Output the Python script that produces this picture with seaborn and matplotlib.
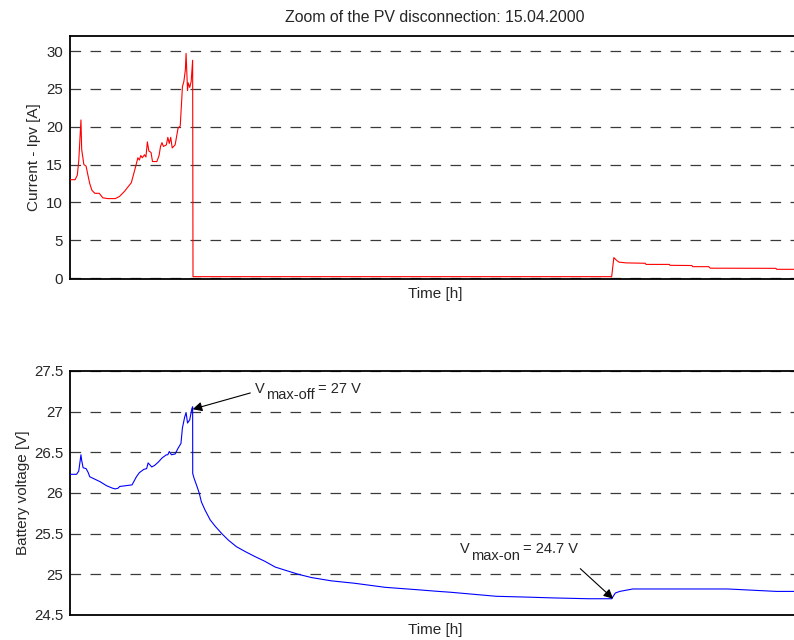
import matplotlib
matplotlib.use("Agg")
import matplotlib.pyplot as plt
import seaborn as sns
import pandas as pd

# PV array current [A] around the disconnection event
t_current = [0.00, 0.07, 0.10, 0.12, 0.15, 0.16, 0.19, 0.22, 0.25, 0.27, 0.30, 0.34,
             0.40, 0.45, 0.52, 0.62, 0.68, 0.75, 0.84, 0.89, 0.93, 0.95, 0.97, 0.99,
             1.02, 1.04, 1.06, 1.08, 1.11, 1.13, 1.19, 1.22, 1.24, 1.26, 1.28, 1.32,
             1.34, 1.36, 1.38, 1.40, 1.44, 1.48, 1.51, 1.53, 1.54, 1.56, 1.58, 1.59,
             1.61, 1.62, 1.64, 1.66, 1.68, 1.685, 7.42, 7.45, 7.48, 7.52, 7.62, 7.88,
             7.89, 8.21, 8.22, 8.52, 8.53, 8.75, 8.77, 9.67, 9.68, 10.0]
i_pv = [13.0, 13.0, 13.6, 15.5, 20.9, 17.0, 15.0, 14.8, 13.4, 12.5, 11.6, 11.2,
        11.2, 10.6, 10.5, 10.5, 10.8, 11.5, 12.6, 14.4, 15.9, 15.6, 16.2, 15.9,
        16.3, 16.0, 18.0, 16.8, 16.6, 15.4, 15.4, 16.2, 17.4, 17.9, 17.4, 17.6,
        18.6, 17.8, 18.6, 17.2, 17.6, 19.8, 20.1, 23.5, 25.3, 26.0, 27.5, 29.7,
        24.8, 25.8, 25.2, 26.0, 28.8, 0.18, 0.18, 2.7, 2.4, 2.1, 2.0, 1.95,
        1.8, 1.8, 1.68, 1.65, 1.5, 1.5, 1.3, 1.28, 1.15, 1.15]

# Battery voltage [V] over the same period
t_voltage = [0.00, 0.09, 0.12, 0.15, 0.16, 0.18, 0.22, 0.25, 0.27, 0.34, 0.41, 0.50,
             0.58, 0.62, 0.66, 0.68, 0.85, 0.88, 0.91, 0.95, 0.98, 1.01, 1.05, 1.07,
             1.10, 1.12, 1.16, 1.21, 1.26, 1.32, 1.34, 1.36, 1.39, 1.44, 1.48, 1.52,
             1.54, 1.57, 1.59, 1.61, 1.64, 1.67, 1.68, 1.681, 1.70, 1.74, 1.77, 1.80,
             1.85, 1.92, 1.99, 2.08, 2.17, 2.28, 2.40, 2.53, 2.67, 2.81, 2.95, 3.13,
             3.31, 3.58, 3.90, 4.32, 4.77, 5.05, 5.21, 5.84, 6.26, 6.62, 7.10, 7.42,
             7.47, 7.53, 7.71, 9.01, 9.68, 10.0]
v_bat = [26.23, 26.23, 26.27, 26.47, 26.40, 26.31, 26.30, 26.25, 26.20, 26.17, 26.14, 26.09,
         26.06, 26.05, 26.06, 26.08, 26.10, 26.15, 26.20, 26.25, 26.27, 26.29, 26.30, 26.37,
         26.34, 26.32, 26.34, 26.38, 26.43, 26.47, 26.47, 26.51, 26.47, 26.48, 26.55, 26.61,
         26.80, 26.93, 26.99, 26.86, 26.90, 27.04, 27.06, 26.24, 26.18, 26.08, 26.00, 25.89,
         25.79, 25.67, 25.59, 25.50, 25.42, 25.34, 25.28, 25.22, 25.16, 25.09, 25.05, 25.00,
         24.96, 24.92, 24.89, 24.84, 24.81, 24.79, 24.78, 24.73, 24.72, 24.71, 24.70, 24.70,
         24.77, 24.79, 24.82, 24.82, 24.79, 24.79]

current_ticks = [0, 5, 10, 15, 20, 25, 30]
voltage_ticks = [24.5, 25, 25.5, 26, 26.5, 27, 27.5]
voltage_tick_labels = ["24.5", "25", "25.5", "26", "26.5", "27", "27.5"]

# Disconnect / reconnect thresholds
v_max_off = 27.0
v_max_on = 24.7

sns.set_style("white")
plt.rcParams["font.family"] = ["Liberation Sans", "DejaVu Sans"]

fig = plt.figure(figsize=(7.94, 6.4), dpi=100)
W, H = 794, 640
ax1 = fig.add_axes([70 / W, 1 - 279 / H, 730 / W, 243 / H])
ax2 = fig.add_axes([70 / W, 1 - 615 / H, 730 / W, 244 / H])

df_i = pd.DataFrame({"t": t_current, "i": i_pv})
df_v = pd.DataFrame({"t": t_voltage, "v": v_bat})

sns.lineplot(data=df_i, x="t", y="i", ax=ax1, color="#ff0000", lw=0.8, sort=False, zorder=3)
sns.lineplot(data=df_v, x="t", y="v", ax=ax2, color="#0000ff", lw=0.8, sort=False, zorder=3)

grid_kw = dict(color="#3a3a3a", lw=0.9, linestyle=(0, (8.5, 7.5)))

for ax in (ax1, ax2):
    ax.set_xlim(0, 10)
    ax.set_xticks([])
    ax.set_xlabel("Time [h]", fontsize=11, labelpad=6)
    for side in ("top", "left", "bottom"):
        ax.spines[side].set_color("black")
        ax.spines[side].set_linewidth(1.3)
    ax.spines["right"].set_visible(False)
    ax.tick_params(axis="y", length=0, labelsize=10.8, pad=5)
    ax.yaxis.grid(True, **grid_kw)
    ax.set_axisbelow(True)

ax1.set_ylim(-0.13, 32)
ax1.set_yticks(current_ticks)
ax1.set_ylabel("Current - Ipv [A]", fontsize=11, labelpad=4)
ax1.set_title("Zoom of the PV disconnection: 15.04.2000", fontsize=11.4, pad=10)

ax2.set_ylim(24.5, 27.5)
ax2.set_yticks(voltage_ticks)
ax2.set_yticklabels(voltage_tick_labels)
ax2.set_ylabel("Battery voltage [V]", fontsize=11, labelpad=3)


def threshold_label(ax, x, y, sub, rest, size=10.5, drop=4.8):
    """Write V with a full-size lowered subscript, then the value."""
    base = ax.text(x, y, "V", fontsize=size, ha="left", va="baseline")
    low = ax.annotate(sub, xy=(1, 0), xycoords=base, xytext=(1.0, -drop),
                      textcoords="offset points", fontsize=size, ha="left", va="bottom")
    ax.annotate(rest, xy=(1, 0), xycoords=low, xytext=(2.2, drop),
                textcoords="offset points", fontsize=size, ha="left", va="bottom")


arrow_kw = dict(arrowstyle="-|>", color="black", lw=0.8, mutation_scale=14,
                shrinkA=0, shrinkB=0)
ax2.annotate("", xy=(1.68, v_max_off + 0.03), xytext=(2.47, 27.23), arrowprops=arrow_kw)
threshold_label(ax2, 2.53, 27.234, "max-off", "= %g V" % v_max_off)
ax2.annotate("", xy=(7.44, v_max_on), xytext=(6.99, 25.07), arrowprops=arrow_kw)
threshold_label(ax2, 5.34, 25.258, "max-on", "= %g V" % v_max_on)

fig.savefig("out.png", dpi=100)
